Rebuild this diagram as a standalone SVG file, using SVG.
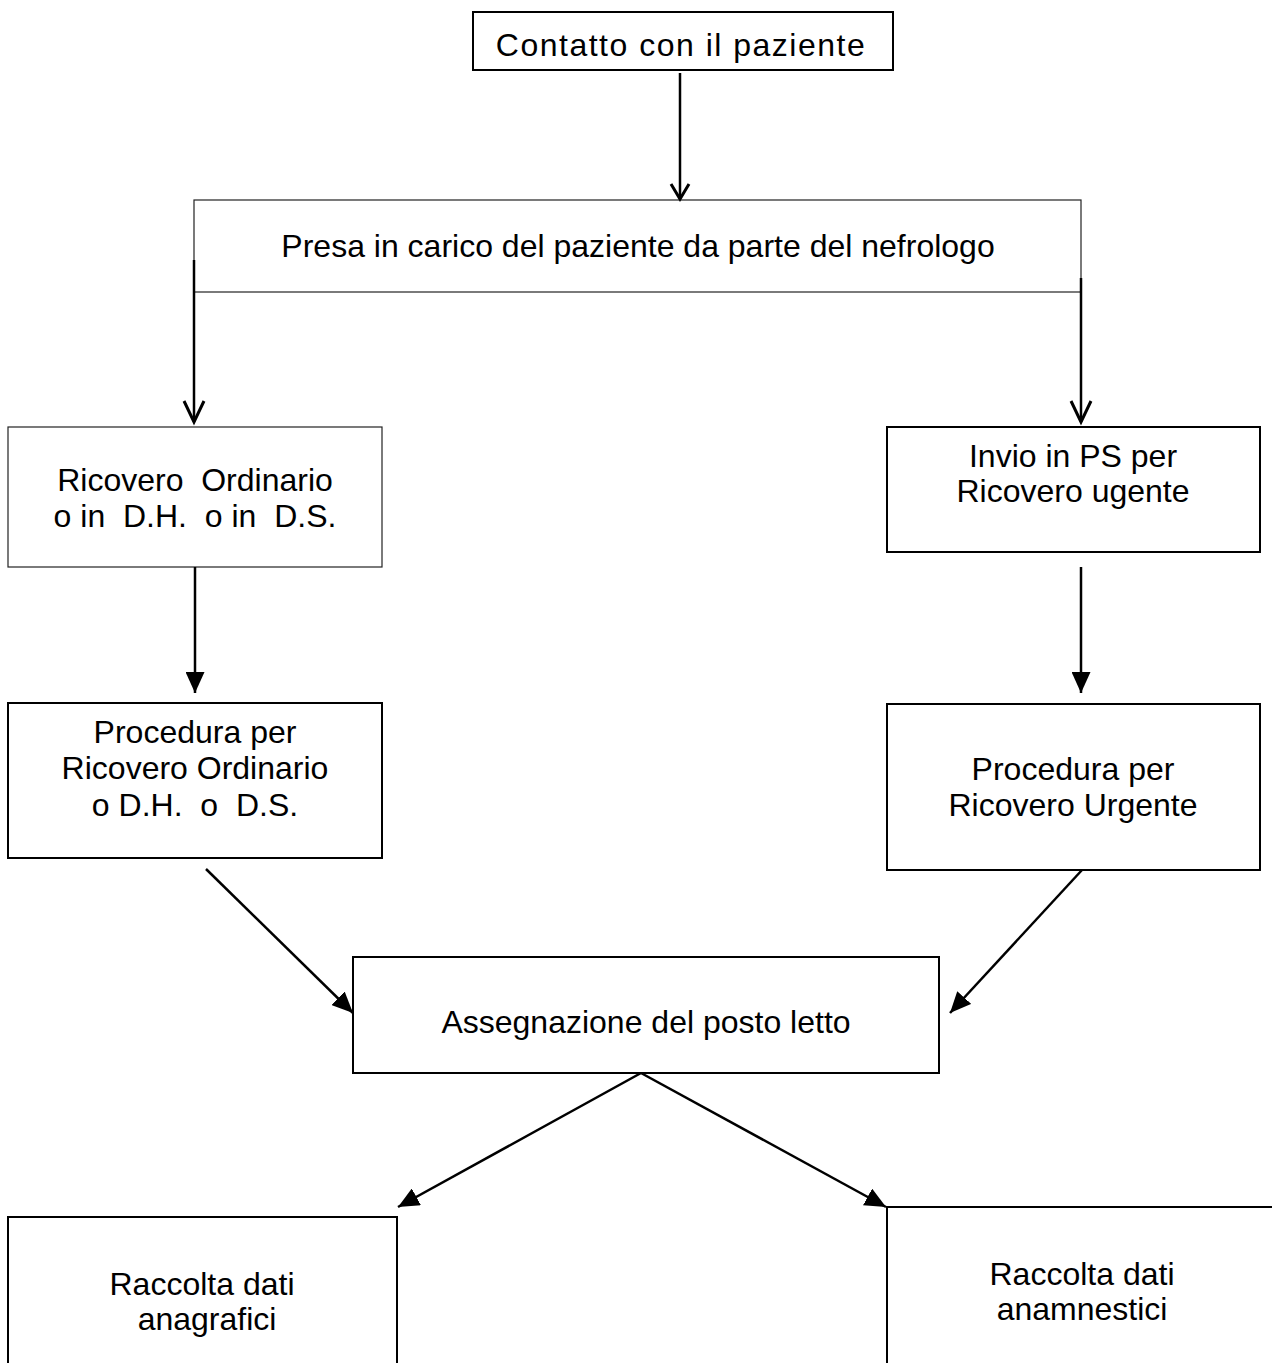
<svg xmlns="http://www.w3.org/2000/svg" width="1272" height="1363" viewBox="0 0 1272 1363">
<style>
text{font-family:"Liberation Sans",Arial,sans-serif;font-size:32px;fill:#000;text-anchor:middle;white-space:pre}
.box{fill:#fff;stroke:#000;stroke-width:2}
.thin{fill:#fff;stroke:#222;stroke-width:1.2}
.edge{fill:none;stroke:#000;stroke-width:2}
.conn{fill:none;stroke:#000;stroke-width:2.5}
.open{fill:none;stroke:#000;stroke-width:3;stroke-linejoin:miter}
</style>
<defs>
<marker id="tri" markerUnits="userSpaceOnUse" markerWidth="21" markerHeight="19" viewBox="0 0 21 19" refX="21" refY="9.5" orient="auto">
<path d="M0,0 L21,9.5 L0,19 Z" fill="#000"/>
</marker>
</defs>
<rect width="1272" height="1363" fill="#fff"/>

<g id="n1">
<rect class="box" x="473" y="12" width="420" height="58" stroke-width="1.8"/>
<text x="681" y="56" font-size="35" letter-spacing="1.5">Contatto con il paziente</text>
</g>
<g id="n2">
<rect class="thin" x="194" y="200" width="887" height="92" stroke-width="1.5"/>
<text x="638" y="257">Presa in carico del paziente da parte del nefrologo</text>
</g>
<g id="n3">
<rect class="thin" x="8" y="427" width="374" height="140"/>
<text x="195" y="491" xml:space="preserve">Ricovero  Ordinario</text>
<text x="195" y="527" xml:space="preserve">o in  D.H.  o in  D.S.</text>
</g>
<g id="n4">
<rect class="box" x="887" y="427" width="373" height="125" stroke-width="1.6"/>
<text x="1073" y="467">Invio in PS per</text>
<text x="1073" y="502">Ricovero ugente</text>
</g>
<g id="n5">
<rect class="box" x="8" y="703" width="374" height="155"/>
<text x="195" y="743">Procedura per</text>
<text x="195" y="779">Ricovero Ordinario</text>
<text x="195" y="816" xml:space="preserve">o D.H.  o  D.S.</text>
</g>
<g id="n6">
<rect class="box" x="887" y="704" width="373" height="166"/>
<text x="1073" y="780">Procedura per</text>
<text x="1073" y="816">Ricovero Urgente</text>
</g>
<g id="n7">
<rect class="box" x="353" y="957" width="586" height="116"/>
<text x="646" y="1033">Assegnazione del posto letto</text>
</g>
<g id="n8">
<path class="edge" d="M8,1363 V1217 H397 V1363"/>
<text x="202" y="1295">Raccolta dati</text>
<text x="207" y="1330">anagrafici</text>
</g>
<g id="n9">
<path class="edge" d="M887,1363 V1207 H1272"/>
<text x="1082" y="1285">Raccolta dati</text>
<text x="1082" y="1320">anamnestici</text>
</g>

<g id="connectors">
<line class="conn" x1="680" y1="73" x2="680" y2="199"/>
<polyline class="open" points="671,184 680,199 689,184"/>
<line class="conn" x1="194" y1="260" x2="194" y2="422"/>
<polyline class="open" points="184,401 194,422 204,401"/>
<line class="conn" x1="1081" y1="278" x2="1081" y2="422"/>
<polyline class="open" points="1071,401 1081,422 1091,401"/>
<line class="conn" x1="195" y1="567" x2="195" y2="693" marker-end="url(#tri)"/>
<line class="conn" x1="1081" y1="567" x2="1081" y2="693" marker-end="url(#tri)"/>
<line class="conn" x1="206" y1="869" x2="353" y2="1013" marker-end="url(#tri)"/>
<line class="conn" x1="1082" y1="870" x2="950" y2="1013" marker-end="url(#tri)"/>
<line class="conn" x1="641" y1="1073" x2="398" y2="1207" marker-end="url(#tri)"/>
<line class="conn" x1="641" y1="1073" x2="886" y2="1207" marker-end="url(#tri)"/>
</g>
</svg>
